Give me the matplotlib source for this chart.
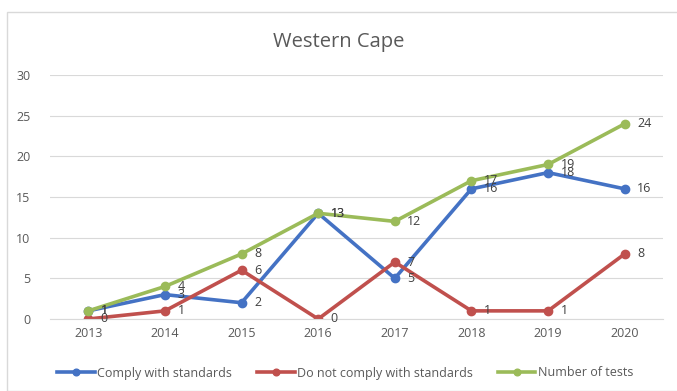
import matplotlib.pyplot as plt
from matplotlib.patches import Rectangle

years = ["2013", "2014", "2015", "2016", "2017", "2018", "2019", "2020"]
comply = [1, 3, 2, 13, 5, 16, 18, 16]
not_comply = [0, 1, 6, 0, 7, 1, 1, 8]
tests = [1, 4, 8, 13, 12, 17, 19, 24]

series = [
    ("Comply with standards", comply, "#4472C4"),
    ("Do not comply with standards", not_comply, "#C0504D"),
    ("Number of tests", tests, "#9BBB59"),
]

plt.rcParams['font.family'] = ['Open Sans', 'DejaVu Sans']

fig = plt.figure(figsize=(6.77, 3.91), dpi=100)
# chart area frame
fig.patches.append(Rectangle((7 / 677, 0), 1, 1 - 12 / 391, transform=fig.transFigure,
                             fill=False, edgecolor="#D9D9D9", linewidth=1))

ax = fig.add_axes([50 / 677, 1 - 319 / 391, 613 / 677, 244 / 391])
x = list(range(len(years)))

for name, vals, col in series:
    ax.plot(x, vals, color=col, linewidth=2.6, marker="o", markersize=6, label=name)
    for xi, v in zip(x, vals):
        ax.annotate(str(v), (xi, v), xytext=(9, 0), textcoords="offset points",
                    ha="left", va="center", fontsize=9, color="#404040")

ax.set_xlim(-0.5, len(years) - 0.5)
ax.set_ylim(0, 30)
ax.set_yticks(range(0, 31, 5))
ax.set_xticks(x)
ax.set_xticklabels(years)
ax.tick_params(axis="both", length=0, labelsize=9, colors="#595959")
ax.tick_params(axis="y", pad=14)
ax.tick_params(axis="x", pad=6)
ax.grid(axis="y", color="#D9D9D9", linewidth=0.8)
ax.set_axisbelow(True)
for s in ["top", "right", "left"]:
    ax.spines[s].set_visible(False)
ax.spines["bottom"].set_color("#D9D9D9")

fig.text(0.5, 1 - 42 / 391, "Western Cape", ha="center", va="center", fontsize=14.5, color="#595959")

fig.legend(loc="center", bbox_to_anchor=(0.51, 1 - 373 / 391), ncol=3, frameon=False,
           fontsize=9, labelcolor="#595959", handlelength=3, columnspacing=2.0,
           handletextpad=0.2, markerscale=0.8)

fig.savefig("out.png", dpi=100)
